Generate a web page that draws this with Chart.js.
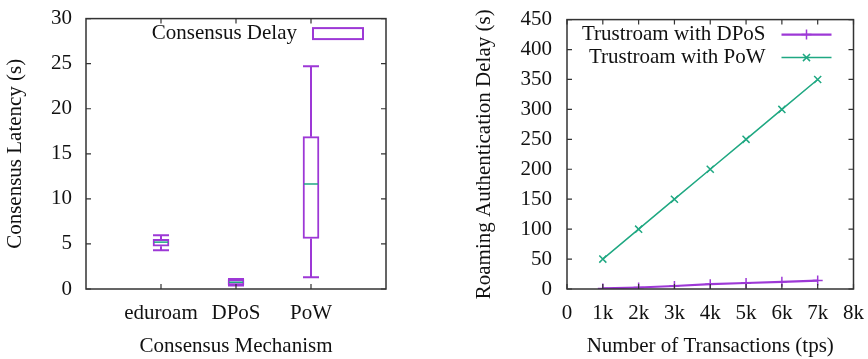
<!DOCTYPE html>
<html>
<head>
<meta charset="utf-8">
<script src="https://cdn.jsdelivr.net/npm/chart.js@4"></script>
<style>
  html, body { margin: 0; padding: 0; background: #fff; }
  .panel { position: absolute; top: 0; width: 434px; height: 359px; }
  #left { left: 0; }
  #right { left: 434px; }
</style>
</head>
<body>
<div class="panel" id="left"><canvas id="latency" width="434" height="359"></canvas></div>
<div class="panel" id="right"><canvas id="roaming" width="434" height="359"></canvas></div>
<script>
// consensus latency per mechanism (box plot stats, seconds)
const mechanisms = ['eduroam', 'DPoS', 'PoW'];
const latencyMin = [4.3, 0.4, 1.3];
const latencyQ1 = [4.75, 0.45, 5.6];
const latencyMedian = [5.2, 0.75, 11.65];
const latencyQ3 = [5.5, 1.05, 16.9];
const latencyMax = [5.95, 1.1, 24.7];

// roaming authentication delay vs. transactions
const transactions = [1000, 2000, 3000, 4000, 5000, 6000, 7000];
const delayDPoS = [1, 2.5, 5, 8, 10, 12, 14];
const delayPoW = [50, 100, 150, 200, 250, 300, 350];

const PURPLE = '#9d38d6';
const GREEN = '#1fa882';
const FRAME = '#333';
const FONT = { family: '"Liberation Serif", "Times New Roman", serif', size: 21 };

// gnuplot-style border with inward ticks mirrored on all sides
const frame = {
  id: 'frame',
  afterDraw(chart) {
    const { ctx, chartArea: a, scales } = chart;
    ctx.save();
    ctx.strokeStyle = FRAME;
    ctx.lineWidth = 1.5;
    ctx.strokeRect(a.left, a.top, a.right - a.left, a.bottom - a.top);
    ctx.lineWidth = 1.2;
    const len = 5;
    scales.x.ticks.forEach(t => {
      if (t.label === '' || t.label == null) return;
      const px = scales.x.getPixelForValue(t.value);
      ctx.beginPath();
      ctx.moveTo(px, a.bottom); ctx.lineTo(px, a.bottom - len);
      ctx.moveTo(px, a.top); ctx.lineTo(px, a.top + len);
      ctx.stroke();
    });
    scales.y.ticks.forEach(t => {
      const py = scales.y.getPixelForValue(t.value);
      ctx.beginPath();
      ctx.moveTo(a.left, py); ctx.lineTo(a.left + len, py);
      ctx.moveTo(a.right, py); ctx.lineTo(a.right - len, py);
      ctx.stroke();
    });
    ctx.restore();
  }
};

// whiskers and medians on top of the floating bars
const whiskers = {
  id: 'whiskers',
  afterDatasetsDraw(chart) {
    const { ctx, scales: { x, y } } = chart;
    const half = 8;
    ctx.save();
    mechanisms.forEach((m, i) => {
      const px = x.getPixelForValue(i + 1);
      const yMin = y.getPixelForValue(latencyMin[i]);
      const yQ1 = y.getPixelForValue(latencyQ1[i]);
      const yQ3 = y.getPixelForValue(latencyQ3[i]);
      const yMax = y.getPixelForValue(latencyMax[i]);
      const yMed = y.getPixelForValue(latencyMedian[i]);
      ctx.strokeStyle = PURPLE;
      ctx.lineWidth = 2;
      ctx.beginPath();
      ctx.moveTo(px, yQ3); ctx.lineTo(px, yMax);
      ctx.moveTo(px - half, yMax); ctx.lineTo(px + half, yMax);
      ctx.moveTo(px, yQ1); ctx.lineTo(px, yMin);
      ctx.moveTo(px - half, yMin); ctx.lineTo(px + half, yMin);
      ctx.stroke();
      ctx.strokeStyle = GREEN;
      ctx.lineWidth = 1.5;
      ctx.beginPath();
      ctx.moveTo(px - half + 1, yMed); ctx.lineTo(px + half - 1, yMed);
      ctx.stroke();
    });
    ctx.restore();
  }
};

const boxKey = {
  id: 'boxKey',
  afterDraw(chart) {
    const { ctx, chartArea: a } = chart;
    const right = a.right - 23, w = 50, cy = a.top + 15;
    ctx.save();
    ctx.font = `${FONT.size}px ${FONT.family}`;
    ctx.fillStyle = '#111';
    ctx.textAlign = 'right';
    ctx.textBaseline = 'middle';
    ctx.fillText(chart.data.datasets[0].label, right - w - 16, cy);
    ctx.strokeStyle = PURPLE;
    ctx.lineWidth = 2;
    ctx.strokeRect(right - w, cy - 5.5, w, 11);
    ctx.restore();
  }
};

const lineKey = {
  id: 'lineKey',
  afterDraw(chart) {
    const { ctx, chartArea: a } = chart;
    const right = a.right - 22, w = 50;
    ctx.save();
    ctx.font = `${FONT.size}px ${FONT.family}`;
    ctx.textAlign = 'right';
    ctx.textBaseline = 'middle';
    chart.data.datasets.forEach((ds, i) => {
      const cy = a.top + 15 + i * 23;
      ctx.fillStyle = '#111';
      ctx.fillText(ds.label, right - w - 16, cy);
      ctx.strokeStyle = ds.borderColor;
      ctx.lineWidth = ds.borderWidth;
      ctx.beginPath();
      ctx.moveTo(right - w, cy); ctx.lineTo(right, cy);
      ctx.stroke();
      ctx.lineWidth = 1.5;
      Chart.helpers.drawPoint(ctx, {
        pointStyle: ds.pointStyle, radius: ds.pointRadius, borderWidth: 1.5
      }, right - w / 2, cy);
    });
    ctx.restore();
  }
};

function axisTitle(text, pad) {
  return { display: true, text, color: '#111', font: FONT, padding: pad };
}

new Chart(document.getElementById('latency'), {
  type: 'bar',
  data: {
    datasets: [{
      label: 'Consensus Delay',
      data: mechanisms.map((m, i) => ({ x: i + 1, y: [latencyQ1[i], latencyQ3[i]] })),
      backgroundColor: '#fff',
      borderColor: PURPLE,
      borderWidth: 2,
      borderSkipped: false,
      barThickness: 16
    }]
  },
  options: {
    responsive: false,
    animation: false,
    layout: { padding: { top: 5, right: 48, left: 0, bottom: 0 } },
    plugins: { legend: { display: false }, tooltip: { enabled: false } },
    scales: {
      x: {
        type: 'linear', min: 0, max: 4, offset: false,
        grid: { display: false }, border: { display: false },
        ticks: {
          stepSize: 1, color: '#111', font: FONT, padding: 4, maxRotation: 0, autoSkip: false,
          callback: v => mechanisms[v - 1] ?? ''
        },
        title: axisTitle('Consensus Mechanism', { top: 0, bottom: 0 }),
        afterFit: s => { s.height = 70; }
      },
      y: {
        min: 0, max: 30,
        grid: { display: false }, border: { display: false },
        ticks: { stepSize: 5, color: '#111', font: FONT, padding: 6 },
        title: axisTitle('Consensus Latency (s)', { top: 3, bottom: 0 }),
        afterFit: s => { s.width = 86; }
      }
    }
  },
  plugins: [whiskers, frame, boxKey]
});

new Chart(document.getElementById('roaming'), {
  type: 'line',
  data: {
    datasets: [{
      label: 'Trustroam with DPoS',
      data: transactions.map((t, i) => ({ x: t, y: delayDPoS[i] })),
      borderColor: PURPLE,
      backgroundColor: PURPLE,
      borderWidth: 2.2,
      pointStyle: 'cross',
      pointRadius: 5,
      pointBorderWidth: 1.5
    }, {
      label: 'Trustroam with PoW',
      data: transactions.map((t, i) => ({ x: t, y: delayPoW[i] })),
      borderColor: GREEN,
      backgroundColor: GREEN,
      borderWidth: 1.5,
      pointStyle: 'crossRot',
      pointRadius: 5,
      pointBorderWidth: 1.5
    }]
  },
  options: {
    responsive: false,
    animation: false,
    layout: { padding: { top: 5, right: 13, left: 0, bottom: 0 } },
    plugins: { legend: { display: false }, tooltip: { enabled: false } },
    scales: {
      x: {
        type: 'linear', min: 0, max: 8000,
        grid: { display: false }, border: { display: false },
        ticks: {
          stepSize: 1000, color: '#111', font: FONT, padding: 4, maxRotation: 0, autoSkip: false,
          callback: v => v === 0 ? '0' : (v / 1000) + 'k'
        },
        title: axisTitle('Number of Transactions (tps)', { top: 0, bottom: 0 }),
        afterFit: s => { s.height = 70; }
      },
      y: {
        min: 0, max: 450,
        grid: { display: false }, border: { display: false },
        ticks: { stepSize: 50, color: '#111', font: FONT, padding: 7 },
        title: axisTitle('Roaming Authentication Delay (s)', { top: 38, bottom: 0 }),
        afterFit: s => { s.width = 133; }
      }
    }
  },
  plugins: [frame, lineKey]
});
</script>
</body>
</html>
